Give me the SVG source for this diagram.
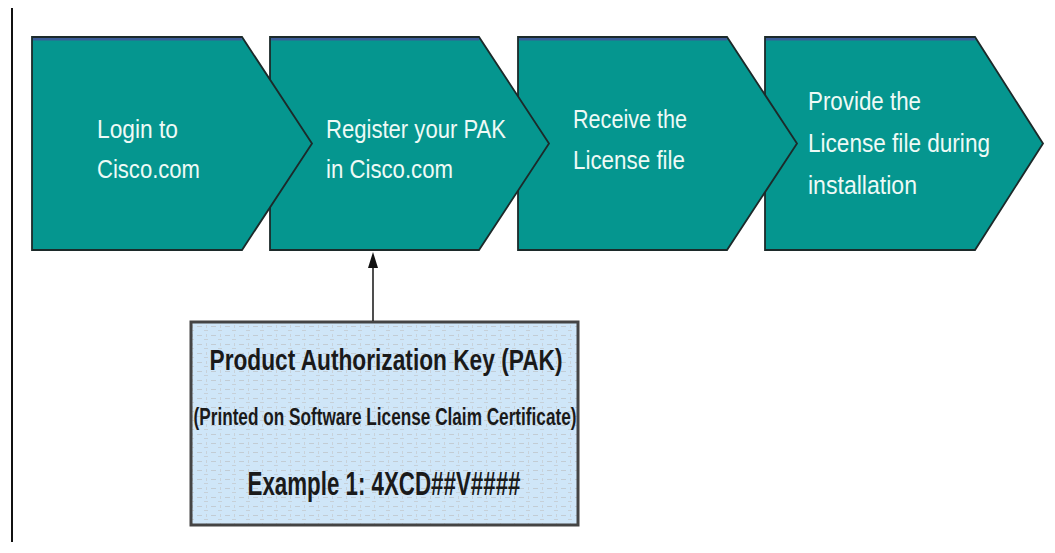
<svg xmlns="http://www.w3.org/2000/svg" width="1055" height="553" viewBox="0 0 1055 553">
  <defs>
    <style>
      .chev { fill: #05968f; stroke: #1c2a2a; stroke-width: 1.8; stroke-linejoin: miter; }
      .topband { stroke: #3b5c98; stroke-width: 2.4; }
      .lbl { font-family: "Liberation Sans", Arial, sans-serif; font-size: 25px; fill: #eefaf6; }
      .pak { font-family: "Liberation Sans", Arial, sans-serif; font-weight: bold; fill: #1a1a1a; text-anchor: middle; }
      .conn { stroke: #222; stroke-width: 1.6; fill: none; }
      .head { fill: #111; }
    </style>
    <pattern id="cert" width="14" height="9" patternUnits="userSpaceOnUse">
      <rect width="14" height="9" fill="#cfe6f8"/>
      <rect x="1" y="2" width="5" height="1" fill="#c2ccd4"/>
      <rect x="8" y="6" width="4" height="1" fill="#c6d0d8"/>
      <rect x="10" y="1" width="1" height="3" fill="#c8d2da"/>
    </pattern>
  </defs>

  <rect width="1055" height="553" fill="#ffffff"/>
  <line x1="12" y1="8" x2="12" y2="542" stroke="#111" stroke-width="2"/>

  <g id="step4">
    <polygon class="chev" points="765,37 975,37 1043,143.5 975,250 765,250"/>
    <line class="topband" x1="766" y1="39.2" x2="975" y2="39.2"/>
    <text class="lbl" x="808" y="110" textLength="113" lengthAdjust="spacingAndGlyphs">Provide the</text>
    <text class="lbl" x="808" y="152" textLength="182" lengthAdjust="spacingAndGlyphs">License file during</text>
    <text class="lbl" x="808" y="194" textLength="109" lengthAdjust="spacingAndGlyphs">installation</text>
  </g>

  <g id="step3">
    <polygon class="chev" points="518,37 727,37 797,143.5 727,250 518,250"/>
    <line class="topband" x1="519" y1="39.2" x2="727" y2="39.2"/>
    <text class="lbl" x="573" y="128" textLength="114" lengthAdjust="spacingAndGlyphs">Receive the</text>
    <text class="lbl" x="573" y="169" textLength="112" lengthAdjust="spacingAndGlyphs">License file</text>
  </g>

  <g id="step2">
    <polygon class="chev" points="270,37 479,37 549,143.5 479,250 270,250"/>
    <line class="topband" x1="271" y1="39.2" x2="479" y2="39.2"/>
    <text class="lbl" x="326" y="138" textLength="180" lengthAdjust="spacingAndGlyphs">Register your PAK</text>
    <text class="lbl" x="326" y="178" textLength="127" lengthAdjust="spacingAndGlyphs">in Cisco.com</text>
  </g>

  <g id="step1">
    <polygon class="chev" points="32,37 242,37 312,143.5 242,250 32,250"/>
    <line class="topband" x1="33" y1="39.2" x2="242" y2="39.2"/>
    <text class="lbl" x="97" y="138" textLength="81" lengthAdjust="spacingAndGlyphs">Login to</text>
    <text class="lbl" x="97" y="178" textLength="103" lengthAdjust="spacingAndGlyphs">Cisco.com</text>
  </g>

  <g id="pak">
    <rect x="191" y="322" width="387" height="203" fill="url(#cert)" stroke="#444" stroke-width="3"/>
    <text class="pak" x="386" y="370" font-size="30" textLength="353" lengthAdjust="spacingAndGlyphs">Product Authorization Key (PAK)</text>
    <text class="pak" x="385" y="425" font-size="23" textLength="383" lengthAdjust="spacingAndGlyphs">(Printed on Software License Claim Certificate)</text>
    <text class="pak" x="384" y="495" font-size="34" textLength="273" lengthAdjust="spacingAndGlyphs">Example 1: 4XCD##V####</text>
  </g>

  <g id="connectors">
    <line class="conn" x1="373" y1="321" x2="373" y2="266"/>
    <polygon class="head" points="373,252 368,268 378,268"/>
  </g>
</svg>
